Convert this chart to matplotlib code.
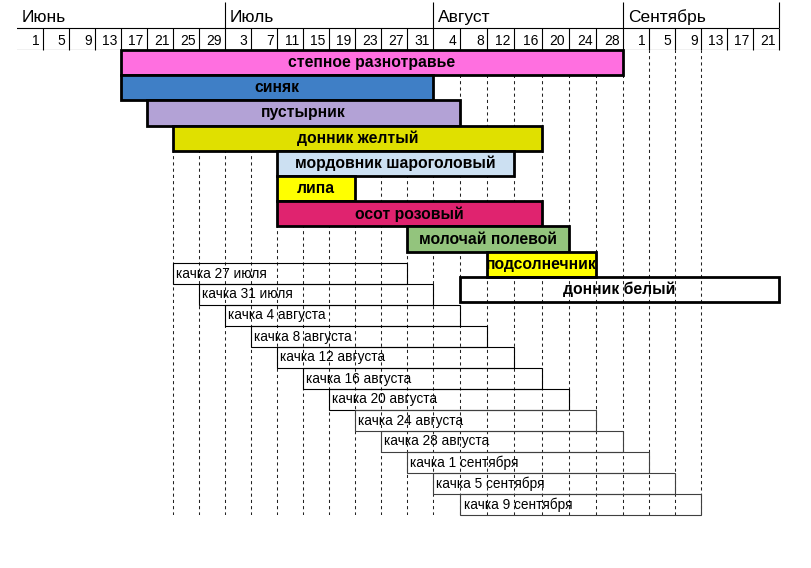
import matplotlib
matplotlib.use("Agg")
import matplotlib.pyplot as plt
from matplotlib import font_manager
import numpy as np
import pandas as pd

W, H = 812, 568
SEASON_START = pd.Timestamp("2000-06-01")

MONTHS = ["Июнь", "Июль", "Август", "Сентябрь"]
MONTH_STARTS = ["06-01", "07-03", "08-04", "09-01"]
CHART_END = "09-25"
DAY_DATES = pd.date_range("2000-06-01", "2000-09-21", freq="4D")

PLANTS = [
    "степное разнотравье", "синяк", "пустырник", "донник желтый",
    "мордовник шароголовый", "липа", "осот розовый", "молочай полевой",
    "подсолнечник", "донник белый",
]
PLANT_START = ["06-17", "06-17", "06-21", "06-25", "07-11",
               "07-11", "07-11", "07-31", "08-12", "08-08"]
PLANT_END = ["08-31", "08-03", "08-07", "08-19", "08-15",
             "07-22", "08-19", "08-23", "08-27", "09-24"]
PLANT_COLORS = ["#FF6FE0", "#3F7FC6", "#B3A2D6", "#E0E000", "#CCE0F2",
                "#FFFF00", "#E0236F", "#93C47D", "#FFFF00", "none"]

KACHKA = [
    "качка 27 июля", "качка 31 июля", "качка 4 августа", "качка 8 августа",
    "качка 12 августа", "качка 16 августа", "качка 20 августа",
    "качка 24 августа", "качка 28 августа", "качка 1 сентября",
    "качка 5 сентября", "качка 9 сентября",
]
KACHKA_START = ["06-25", "06-29", "07-03", "07-07", "07-11", "07-15",
                "07-19", "07-23", "07-27", "07-31", "08-04", "08-08"]
KACHKA_END = ["07-30", "08-03", "08-07", "08-11", "08-15", "08-19",
              "08-23", "08-27", "08-31", "09-04", "09-08", "09-12"]

GRID_FROM, GRID_TO = "06-25", "09-13"


def day(md):
    return (pd.Timestamp("2000-" + md) - SEASON_START).days


# excel columns are not all the same width (august ones are wider)
KNOT_DAYS = [0, 32, 64, 92, 116]
KNOT_PX = [17, 225, 433, 623, 779]


def fwd(x):
    return np.interp(x, KNOT_DAYS, KNOT_PX)


def inv(p):
    return np.interp(p, KNOT_PX, KNOT_DAYS)


_names = {f.name for f in font_manager.fontManager.ttflist}
HAS_NARROW = "Liberation Sans Narrow" in _names
plt.rcParams["font.family"] = ["Liberation Sans", "DejaVu Sans"]
BAR_FONT = dict(family="Liberation Sans Narrow", fontsize=14) if HAS_NARROW \
    else dict(family="Liberation Sans", fontsize=11.3)

fig = plt.figure(figsize=(W / 100, H / 100), dpi=100)


def px_axes(y0, y1, x0=17, x1=779):
    ax = fig.add_axes([x0 / W, 1 - y1 / H, (x1 - x0) / W, (y1 - y0) / H])
    ax.set_xscale("function", functions=(fwd, inv))
    ax.set_xlim(0, day(CHART_END))
    ax.set_axis_off()
    return ax


end = day(CHART_END)

# dashed column guides
ax_g = px_axes(50, 515)
ax_g.set_ylim(0, 1)
grid_days = np.arange(day(GRID_FROM), day(GRID_TO) + 1, 4)
ax_g.vlines(grid_days, 0, 1, colors="#222222", linestyles=(0, (3, 3)), lw=0.75)

# extraction windows
ax_k = px_axes(263, 515)
ax_k.set_ylim(len(KACHKA), 0)
k_left = np.array([day(s) for s in KACHKA_START])
k_width = np.array([day(e) for e in KACHKA_END]) + 1 - k_left
k_rows = np.arange(len(KACHKA)) + 0.5
k_edges = ["black"] * 7 + ["#404040"] * (len(KACHKA) - 7)
ax_k.barh(k_rows, k_width, left=k_left, height=1, facecolor="none",
          edgecolor=k_edges, lw=0.8, clip_on=False)
for lab, x, y in zip(KACHKA, k_left, k_rows):
    ax_k.annotate(lab, (x, y), xytext=(2.5, 0), textcoords="offset points",
                  ha="left", va="center", fontsize=9.8)

# flowering bars
ax_b = px_axes(50, 302)
ax_b.set_ylim(len(PLANTS), 0)
p_left = np.array([day(s) for s in PLANT_START])
p_width = np.array([day(e) for e in PLANT_END]) + 1 - p_left
p_rows = np.arange(len(PLANTS)) + 0.5
ax_b.barh(p_rows, p_width, left=p_left, height=1, color=PLANT_COLORS,
          edgecolor="black", lw=2.0, clip_on=False)
for lab, x, w, y in zip(PLANTS, p_left, p_width, p_rows):
    cx = inv((fwd(x) + fwd(x + w)) / 2)
    ax_b.text(cx, y, lab, ha="center", va="center", fontweight="bold", **BAR_FONT)

# header: months
ax_m = px_axes(2, 28)
ax_m.set_ylim(0, 1)
ax_m.axhline(0, color="black", lw=0.8)
ax_m.vlines([day(s) for s in MONTH_STARTS[1:]] + [end], 0, 1,
            colors="black", lw=0.8, clip_on=False)
for name, s in zip(MONTHS, MONTH_STARTS):
    ax_m.annotate(name, (day(s), 0.23), xytext=(3.5, 0), textcoords="offset points",
                  ha="left", va="baseline", fontsize=12.5)

# header: days
ax_d = px_axes(28, 50)
ax_d.set_ylim(0, 1)
ax_d.axhline(0, color="black", lw=0.8)
ax_d.axhline(1, color="black", lw=0.8)
d_days = [(d - SEASON_START).days for d in DAY_DATES]
ax_d.vlines(d_days[1:] + [end], 0, 1, colors="black", lw=0.8, clip_on=False)
for d, x in zip(DAY_DATES, d_days):
    ax_d.annotate(str(d.day), (x + 4, 0.23), xytext=(-2.5, 0), textcoords="offset points",
                  ha="right", va="baseline", fontsize=10)

fig.savefig("out.png", dpi=100)
